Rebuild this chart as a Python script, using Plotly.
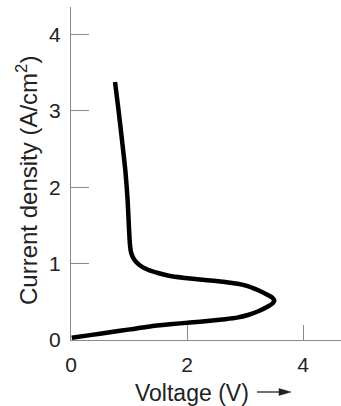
import plotly.graph_objects as go

# Curve data (Voltage V, Current density A/cm^2)
voltage = [0.012, 0.328, 0.672, 1.017, 1.362, 1.707, 2.052, 2.397, 2.655, 2.862,
           3.052, 3.229, 3.402, 3.474, 3.505,
           3.474, 3.402, 3.229, 3.0, 2.655, 2.310, 1.966, 1.707, 1.5, 1.328,
           1.190, 1.095, 1.038, 1.017, 0.997, 0.976, 0.936, 0.879, 0.819, 0.759]
current = [0.030, 0.064, 0.101, 0.139, 0.177, 0.205, 0.230, 0.251, 0.272, 0.293,
           0.327, 0.376, 0.441, 0.478, 0.514,
           0.552, 0.585, 0.651, 0.716, 0.759, 0.785, 0.813, 0.838, 0.877, 0.919,
           0.975, 1.047, 1.139, 1.243, 1.505, 1.832, 2.225, 2.618, 3.010, 3.377]

x_ticks = [0, 2, 4]
y_ticks = [0, 1, 2, 3, 4]

FONT = "Liberation Sans, Arial, sans-serif"
TXT = "#222222"
AX = "#8a8a8a"

L, R, T, B = 71, 0, 7, 66
W, H = 341, 406
PW, PH = W - L - R, H - T - B


def px(xp):
    return (xp - L) / PW


def py(yp):
    return (H - B - yp) / PH


fig = go.Figure()
fig.add_trace(go.Scatter(
    x=voltage, y=current, mode="lines",
    line=dict(color="black", width=4.5, shape="spline", smoothing=0.6),
    hoverinfo="skip", showlegend=False,
))

fig.update_layout(
    width=W, height=H,
    margin=dict(l=L, r=R, t=T, b=B),
    paper_bgcolor="white", plot_bgcolor="white",
    font=dict(family=FONT, color=TXT, size=21),
    xaxis=dict(
        range=[0, PW / 58], tickvals=x_ticks, ticktext=[str(v) for v in x_ticks],
        ticks="inside", ticklen=15, tickwidth=1.2, tickcolor=AX,
        showline=True, linecolor=AX, linewidth=1.2,
        showgrid=False, zeroline=False, ticklabelstandoff=6,
        tickfont=dict(size=21, color=TXT),
    ),
    yaxis=dict(
        range=[0, PH / 76.4], tickvals=y_ticks, ticktext=[str(v) for v in y_ticks],
        ticks="inside", ticklen=18, tickwidth=1.2, tickcolor=AX,
        showline=True, linecolor=AX, linewidth=1.2,
        showgrid=False, zeroline=False, ticklabelstandoff=5,
        tickfont=dict(size=21, color=TXT),
    ),
)

# Axis titles
fig.add_annotation(
    text="Voltage (V)", xref="paper", yref="paper",
    x=px(192), y=py(393), xanchor="center", yanchor="middle",
    showarrow=False, font=dict(size=23, color=TXT, family=FONT),
)
# arrow after the x title: shaft + filled head
fig.add_shape(type="line", xref="paper", yref="paper",
              x0=px(257), x1=px(281), y0=py(392), y1=py(392),
              line=dict(color=TXT, width=1.3))
fig.add_shape(type="path", xref="paper", yref="paper",
              path=f"M {px(279)} {py(388.5)} L {px(291)} {py(392)} L {px(279)} {py(395.5)} Z",
              fillcolor=TXT, line=dict(color=TXT, width=0.5))

fig.add_annotation(
    text="Current density (A/cm<sup>2</sup>)", xref="paper", yref="paper",
    x=px(27), y=py(181), xanchor="center", yanchor="middle",
    textangle=-90, showarrow=False, font=dict(size=24, color=TXT, family=FONT),
)

fig.write_html("out.html")
